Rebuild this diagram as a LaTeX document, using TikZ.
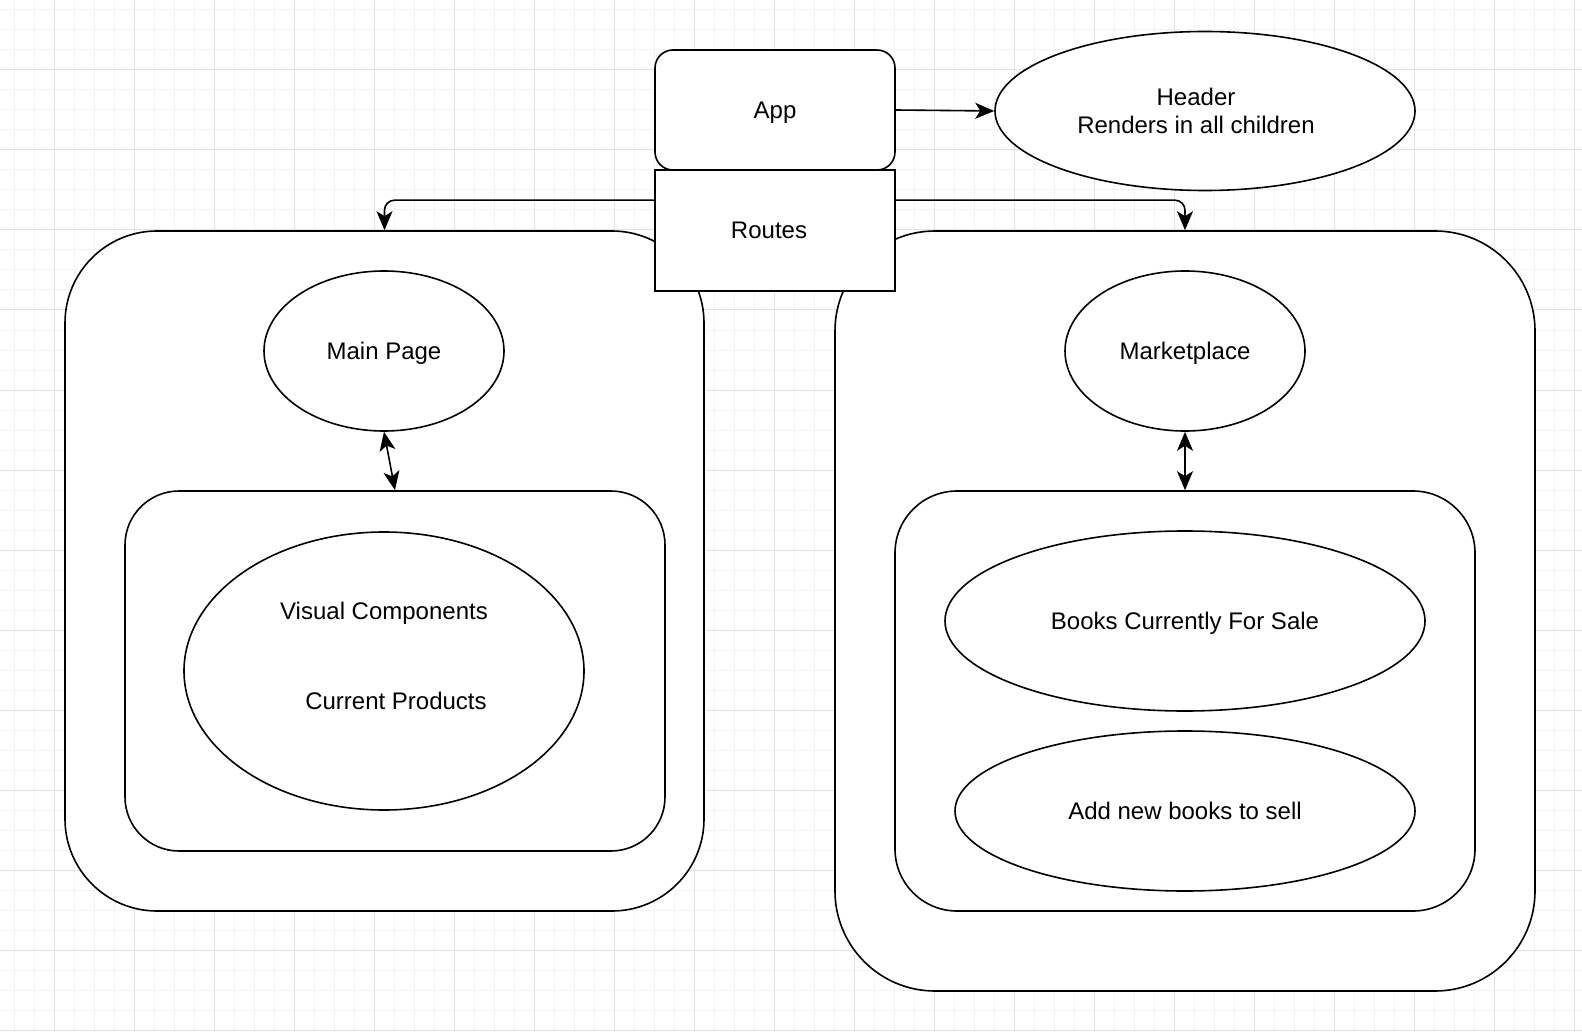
\documentclass[tikz,border=0pt]{standalone}
\usepackage{fontspec}
\setmainfont{Liberation Sans}
\usetikzlibrary{arrows.meta,positioning,calc,shapes.geometric}
\definecolor{gridmajor}{HTML}{E2E2E2}
\definecolor{gridminor}{HTML}{F3F3F3}
\definecolor{ink}{HTML}{000000}
\tikzset{
  lbl/.style={font=\fontsize{24}{28}\selectfont,text=ink,align=center,text depth=0pt},
  roundbox/.style={lbl,draw=ink,fill=white,line width=1.6pt,rounded corners=#1,inner sep=0pt},
  roundbox/.default=18,
  sqbox/.style={lbl,draw=ink,fill=white,line width=1.6pt,inner sep=0pt},
  oval/.style={lbl,ellipse,draw=ink,fill=white,line width=1.6pt,inner sep=0pt},
  arr/.style={-{Stealth[length=19pt,width=16pt,inset=5pt]},line width=1.6pt,draw=ink},
  dblarr/.style={arr,{Stealth[length=19pt,width=16pt,inset=5pt]}-{Stealth[length=19pt,width=16pt,inset=5pt]}}
}
\begin{document}
\begin{tikzpicture}[x=1pt,y=-1pt]
\useasboundingbox (0,0) rectangle (1582,1032);
% background grid
\foreach \x in {14,34,...,1582}\draw[gridminor,line width=1pt] (\x,0) -- (\x,1032);
\foreach \y in {10,30,...,1032}\draw[gridminor,line width=1pt] (0,\y) -- (1582,\y);
\foreach \x in {54,134,...,1582}\draw[gridmajor,line width=1pt] (\x,0) -- (\x,1032);
\foreach \y in {70,150,...,1032}\draw[gridmajor,line width=1pt] (0,\y) -- (1582,\y);
% route containers
\node[roundbox=92,minimum width=639,minimum height=680] (mainc) at (384.5,571) {};
\node[roundbox=100,minimum width=700,minimum height=760] (marketc) at (1185,611) {};
\node[roundbox=54,minimum width=540,minimum height=360] (mainin) at (395,671) {};
\node[roundbox=62,minimum width=580,minimum height=420] (marketin) at (1185,701) {};
% pages and components
\node[oval,minimum width=240,minimum height=160] (mainpage) at (384,351) {Main Page};
\node[oval,minimum width=240,minimum height=160] (market) at (1185,351) {Marketplace};
\node[oval,minimum width=400,minimum height=278] (visual) at (384,671) {};
\node[lbl] (visualtxt) at ($(visual.center)+(0,-60)$) {Visual Components};
\node[lbl] (products) at ($(visual.center)+(12,30)$) {Current Products};
\node[oval,minimum width=480,minimum height=180] (books) at (1185,621) {Books Currently For Sale};
\node[oval,minimum width=460,minimum height=160] (addbooks) at (1185,811) {Add new books to sell};
% top level
\node[roundbox=18,minimum width=240,minimum height=120] (app) at (775,110) {App};
\node[sqbox,minimum width=240,minimum height=121] (routes) at (775,230.5) {\hspace*{-12pt}Routes};
\node[oval,text depth=,minimum width=420,minimum height=159] (header) at (1205,111) {\hspace*{-18pt}Header\\\hspace*{-18pt}Renders in all children};
\draw[arr] (app.east) -- (header.west);
\draw[arr,rounded corners=10] ($(routes.north west)+(0,31)$) -| (mainc.north);
\draw[arr,rounded corners=10] ($(routes.north east)+(0,31)$) -| (marketc.north);
\draw[dblarr] (mainpage.south) -- (mainin.north);
\draw[dblarr] (market.south) -- (marketin.north);
\end{tikzpicture}
\end{document}
